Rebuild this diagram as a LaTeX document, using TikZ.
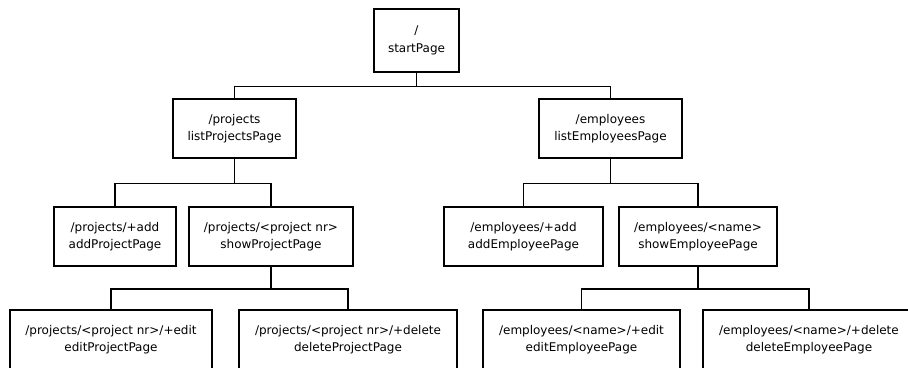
\documentclass[tikz,border=0pt]{standalone}
\usepackage{fontspec}
\setmainfont{DejaVu Sans}
\usepackage{tikz}
\usetikzlibrary{calc}
\tikzset{
  page box/.style={
    rectangle,
    draw=black,
    line width=1.8pt,
    fill=white,
    minimum height=59,
    align=center,
    inner sep=2pt,
    font=\fontsize{12}{17.5}\selectfont,
  },
  tree line/.style={line width=1.8pt, draw=black},
}

\begin{document}
\begin{tikzpicture}[x=1pt,y=-1pt]
  \useasboundingbox (0,0) rectangle (908,367);

  % root
  \node[page box,minimum width=85,minimum height=63] (start) at (416.5,40.5) {/\\startPage};

  % first level
  \node[page box,minimum width=123] (projects) at (234.5,128.5) {/projects\\listProjectsPage};
  \node[page box,minimum width=143] (employees) at (610.5,128.5) {/employees\\listEmployeesPage};

  % second level
  \node[page box,minimum width=122] (addproj) at (115,236.5) {/projects/+add\\addProjectPage};
  \node[page box,minimum width=164] (showproj) at (271,236.5) {/projects/<project nr>\\showProjectPage};
  \node[page box,minimum width=159] (addempl) at (523.5,236.5) {/employees/+add\\addEmployeePage};
  \node[page box,minimum width=158] (showempl) at (698,236.5) {/employees/<name>\\showEmployeePage};

  % third level
  \node[page box,minimum width=202] (editproj) at (111,339.5) {/projects/<project nr>/+edit\\editProjectPage};
  \node[page box,minimum width=218] (delproj) at (348,339.5) {/projects/<project nr>/+delete\\deleteProjectPage};
  \node[page box,minimum width=197] (editempl) at (581.5,339.5) {/employees/<name>/+edit\\editEmployeePage};
  \node[page box,minimum width=212] (delempl) at (809,339.5) {/employees/<name>/+delete\\deleteEmployeePage};

  % connectors
  \foreach \parent/\child/\drop in {start/projects/13.5, start/employees/13.5,
      projects/addproj/24.5, projects/showproj/24.5,
      employees/addempl/24.5, employees/showempl/24.5,
      showproj/editproj/22, showproj/delproj/22,
      showempl/editempl/22, showempl/delempl/22}
    \draw[tree line] (\parent.south) -- ++(0,\drop) -| (\child.north);
\end{tikzpicture}
\end{document}
